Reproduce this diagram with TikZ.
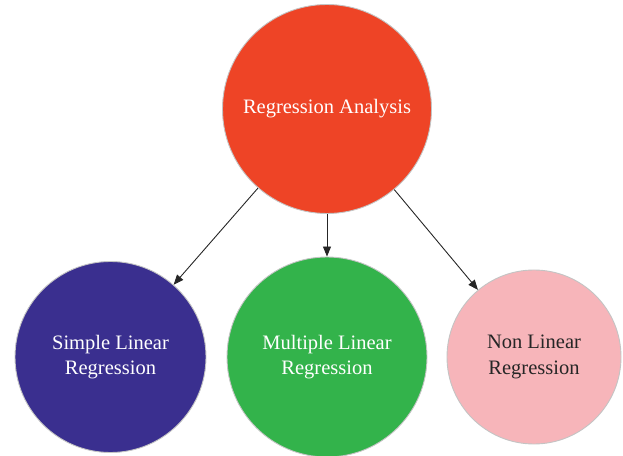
\documentclass[tikz,border=0pt]{standalone}
\usepackage{fontspec}
\setmainfont{Liberation Serif}
\usetikzlibrary{arrows.meta}
\definecolor{cred}{HTML}{EE4426}
\definecolor{cblue}{HTML}{3A2F8F}
\definecolor{cgreen}{HTML}{33B34B}
\definecolor{cpink}{HTML}{F7B5BA}
\definecolor{cedge}{HTML}{C4C4C4}
\tikzset{
  bubble/.style={circle, draw=cedge, line width=0.9pt, inner sep=0pt, align=center,
    font=\fontsize{20.5}{25.5}\selectfont},
  arr/.style={draw=black!85, line width=0.9pt, -{Triangle[length=10pt,width=8pt]}}
}
\begin{document}
\begin{tikzpicture}[x=1pt,y=1pt]
\useasboundingbox (0,0) rectangle (623,455);
\node[bubble, fill=cred, text=white, minimum size=209pt] (top) at (327,346) {Regression Analysis};
\node[bubble, fill=cblue, text=white, minimum size=191pt] (left) at (110.5,98) {Simple Linear\\Regression};
\node[bubble, fill=cgreen, text=white, minimum size=200pt] (mid) at (327,98) {Multiple Linear\\Regression};
\node[bubble, fill=cpink, text=black!85, minimum size=174pt] (right) at (534,98) {Non Linear\\Regression};
\draw[arr] (top) -- (left);
\draw[arr] (top) -- (mid);
\draw[arr] (top) -- (right);
\end{tikzpicture}
\end{document}
